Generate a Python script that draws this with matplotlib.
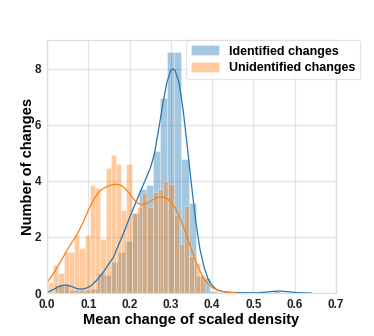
import numpy as np
import matplotlib
matplotlib.use("Agg")
import matplotlib.pyplot as plt

# histogram bars (density)
ident_start = 0.0194
ident_width = 0.01702
ident_heights = [0.28, 0.30, 0.10, 0.10, 0.10, 0.15, 0.70, 0.65, 1.10, 1.45,
                 1.85, 2.85, 3.70, 3.85, 5.08, 6.95, 8.60, 8.60, 4.80, 3.20,
                 0.60, 0.55, 0.08, 0.0, 0.0, 0.0, 0.0, 0.0, 0.0, 0.0,
                 0.0, 0.06, 0.0]

unident_start = 0.0024
unident_width = 0.01267
unident_heights = [0.40, 1.00, 0.70, 1.46, 1.46, 2.07, 1.60, 2.07, 3.86, 3.74,
                   1.92, 4.47, 4.93, 4.61, 2.96, 4.61, 2.85, 3.07, 3.56, 3.07,
                   3.60, 3.71, 4.00, 3.88, 2.79, 1.74, 3.10, 1.33, 1.06, 0.64]

# kde curves
ident_kde_x = [0.0, 0.01, 0.02, 0.03, 0.04, 0.05, 0.06, 0.07, 0.08, 0.09,
               0.10, 0.11, 0.12, 0.13, 0.14, 0.15, 0.16, 0.17, 0.18, 0.19,
               0.20, 0.21, 0.22, 0.23, 0.24, 0.25, 0.26, 0.27, 0.28, 0.29,
               0.30, 0.305, 0.31, 0.32, 0.33, 0.34, 0.35, 0.36, 0.37, 0.38,
               0.39, 0.40, 0.41, 0.42, 0.43, 0.45, 0.48, 0.51, 0.53, 0.55,
               0.565, 0.58, 0.60, 0.62, 0.64]
ident_kde_y = [0.03, 0.08, 0.16, 0.24, 0.28, 0.28, 0.23, 0.17, 0.14, 0.15,
               0.20, 0.30, 0.45, 0.62, 0.82, 1.05, 1.25, 1.60, 1.95, 2.30,
               2.70, 3.05, 3.40, 3.75, 4.10, 4.45, 4.95, 5.80, 6.70, 7.50,
               7.95, 8.00, 7.95, 7.50, 6.50, 5.20, 3.85, 2.60, 1.60, 0.95,
               0.50, 0.27, 0.13, 0.07, 0.04, 0.02, 0.01, 0.01, 0.03, 0.06,
               0.07, 0.05, 0.02, 0.005, 0.0]

unident_kde_x = [0.0, 0.01, 0.02, 0.03, 0.04, 0.05, 0.06, 0.07, 0.08, 0.09,
                 0.10, 0.11, 0.12, 0.13, 0.14, 0.15, 0.16, 0.17, 0.18, 0.19,
                 0.20, 0.21, 0.22, 0.23, 0.24, 0.25, 0.26, 0.27, 0.28, 0.29,
                 0.30, 0.31, 0.32, 0.33, 0.34, 0.35, 0.36, 0.37, 0.38, 0.39,
                 0.40, 0.41, 0.42, 0.43, 0.44, 0.45, 0.46]
unident_kde_y = [0.37, 0.58, 0.80, 1.05, 1.30, 1.56, 1.80, 2.02, 2.30, 2.60,
                 2.95, 3.25, 3.50, 3.66, 3.76, 3.83, 3.87, 3.88, 3.84, 3.72,
                 3.55, 3.35, 3.20, 3.15, 3.18, 3.27, 3.36, 3.42, 3.43, 3.38,
                 3.25, 3.05, 2.75, 2.38, 1.98, 1.55, 1.15, 0.80, 0.52, 0.33,
                 0.20, 0.12, 0.07, 0.04, 0.02, 0.01, 0.0]

labels = ['Identified changes', 'Unidentified changes']
blue = '#1f77b4'
orange = '#ff7f0e'

plt.rcParams['font.family'] = ['Liberation Sans', 'DejaVu Sans']
plt.rcParams['font.weight'] = 'bold'

fig = plt.figure(figsize=(3.74, 3.36), dpi=100)
ax = fig.add_axes([47/374, 43/336, 289/374, 253/336])
ax.set_axisbelow(True)
ax.grid(color='#e3e3e3', linewidth=0.9)
for spine in ax.spines.values():
    spine.set_color('#dddddd')
    spine.set_linewidth(0.9)

ident_left = ident_start + ident_width * np.arange(len(ident_heights))
unident_left = unident_start + unident_width * np.arange(len(unident_heights))

ax.bar(ident_left, ident_heights, width=ident_width, align='edge', color=blue,
       alpha=0.4, edgecolor='white', linewidth=0.5, label=labels[0])
ax.plot(ident_kde_x, ident_kde_y, color=blue, lw=0.9)
ax.bar(unident_left, unident_heights, width=unident_width, align='edge', color=orange,
       alpha=0.4, edgecolor='white', linewidth=0.5, label=labels[1])
ax.plot(unident_kde_x, unident_kde_y, color=orange, lw=0.9)

ax.set_xlim(0, 0.7)
ax.set_ylim(0, 9.03)
ax.set_xticks([0.0, 0.1, 0.2, 0.3, 0.4, 0.5, 0.6, 0.7])
ax.set_yticks([0, 2, 4, 6, 8])
ax.tick_params(length=0, labelsize=8.5, colors='#222222', pad=4)
for t in ax.get_xticklabels() + ax.get_yticklabels():
    t.set_fontweight('bold')

ax.set_xlabel('Mean change of scaled density', fontsize=10.5, fontweight='bold', labelpad=2)
ax.set_ylabel('Number of changes', fontsize=10.5, fontweight='bold', labelpad=0)

leg = ax.legend(loc='upper right', bbox_to_anchor=(360/374, 1 - 40/336),
                bbox_transform=fig.transFigure, borderaxespad=0, fontsize=9,
                frameon=True, fancybox=True, handlelength=2.2, handleheight=0.9,
                borderpad=0.4, labelspacing=0.35)
leg.get_frame().set_edgecolor('#dddddd')
leg.get_frame().set_linewidth(0.8)
for t in leg.get_texts():
    t.set_fontweight('bold')

fig.savefig('out.png', dpi=100)
